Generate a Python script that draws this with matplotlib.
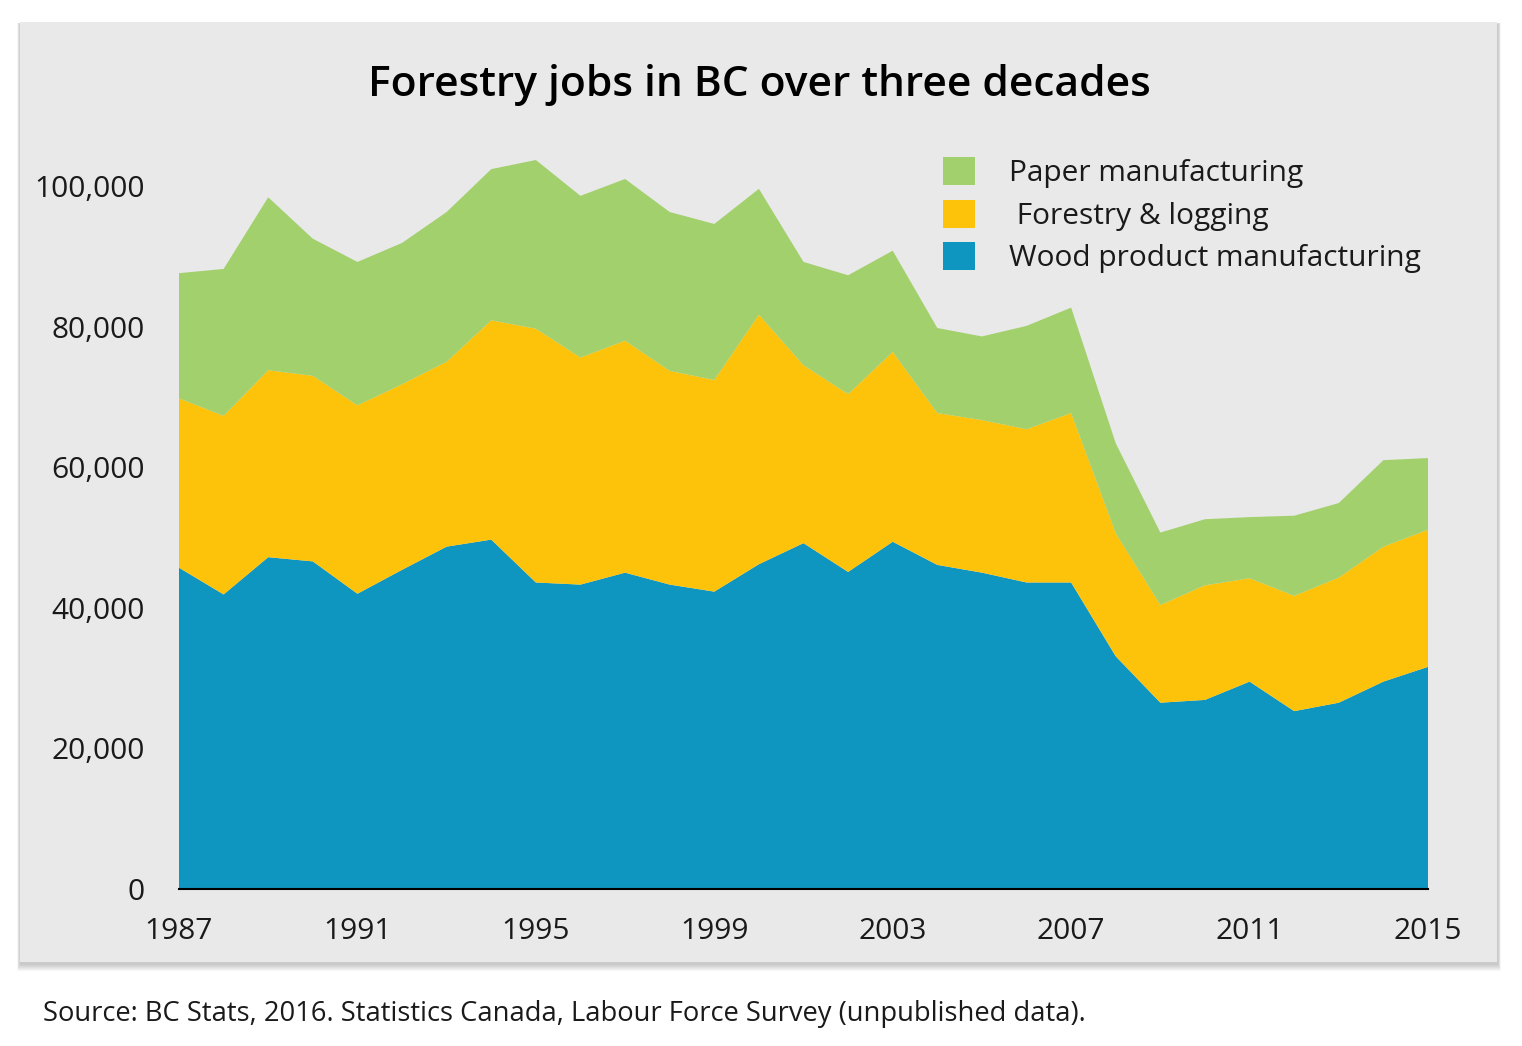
import matplotlib
matplotlib.use("Agg")
import matplotlib.pyplot as plt
from matplotlib.patches import Patch, Rectangle

plt.rcParams['font.family'] = ['Open Sans', 'DejaVu Sans']

years = list(range(1987, 2016))
wood = [45.7, 41.9, 47.2, 46.6, 42.0, 45.4, 48.7, 49.7, 43.6, 43.3, 45.0, 43.3, 42.3, 46.2,
        49.2, 45.1, 49.4, 46.1, 45.0, 43.6, 43.6, 33.1, 26.5, 26.9, 29.5, 25.3, 26.5, 29.5, 31.6]
forestry = [24.1, 25.4, 26.6, 26.4, 26.8, 26.4, 26.3, 31.2, 36.1, 32.3, 33.0, 30.4, 30.1, 35.5,
            25.3, 25.3, 27.0, 21.6, 21.7, 21.8, 24.1, 17.5, 13.9, 16.3, 14.7, 16.4, 17.8, 19.2, 19.5]
paper = [17.8, 20.9, 24.6, 19.5, 20.4, 20.1, 21.3, 21.5, 24.0, 23.0, 23.0, 22.6, 22.2, 17.9,
         14.7, 16.9, 14.4, 12.1, 11.9, 14.7, 15.0, 12.8, 10.3, 9.4, 8.7, 11.4, 10.6, 12.3, 10.2]
wood = [v * 1000 for v in wood]
forestry = [v * 1000 for v in forestry]
paper = [v * 1000 for v in paper]

series_labels = ["Wood product manufacturing", "Forestry & logging", "Paper manufacturing"]
colors = ["#0E96C0", "#FDC20A", "#A2D06C"]
xticks = [1987, 1991, 1995, 1999, 2003, 2007, 2011, 2015]
yticks = [0, 20000, 40000, 60000, 80000, 100000]

W, H = 1522, 1046
fig = plt.figure(figsize=(W / 100, H / 100), dpi=100)
fig.patch.set_facecolor("white")

# panel soft shadow and panel
px0, py0, pw, ph = 20, 22, 1477, 940
for g in range(7, 0, -1):
    fig.patches.append(Rectangle(((px0 - g * 0.4) / W, 1 - (py0 + ph + 2 + g) / H),
                                 (pw + 0.8 * g + 1) / W, (ph + g * 1.2) / H,
                                 transform=fig.transFigure, facecolor="black", alpha=0.03,
                                 edgecolor="none", zorder=-3))
fig.patches.append(Rectangle((px0 / W, 1 - (py0 + ph) / H), pw / W, ph / H, transform=fig.transFigure,
                             facecolor="#E9E9E9", edgecolor="none", zorder=-2))

left, right = 179 / W, 1428 / W
y0 = 889
ytop_val = 110000
ppk = 7.03
ytop = y0 - ytop_val / 1000 * ppk
ax = fig.add_axes([left, 1 - y0 / H, right - left, (y0 - ytop) / H])
ax.set_zorder(2)
ax.set_facecolor("none")
ax.stackplot(years, wood, forestry, paper, colors=colors, labels=series_labels, linewidth=0)
ax.set_xlim(1987, 2015)
ax.set_ylim(0, ytop_val)
ax.set_xticks(xticks)
ax.set_xticklabels([str(x) for x in xticks])
ax.set_yticks(yticks)
ax.set_yticklabels([f"{v:,}" for v in yticks])
for s in ["top", "right", "left"]:
    ax.spines[s].set_visible(False)
ax.spines["bottom"].set_color("black")
ax.spines["bottom"].set_linewidth(1.5)
ax.tick_params(axis="both", length=0, labelsize=21.5, colors="#1a1a1a")
ax.tick_params(axis="x", pad=20.5)
ax.tick_params(axis="y", pad=24.5)

handles = [Patch(facecolor=colors[2]), Patch(facecolor=colors[1]), Patch(facecolor=colors[0])]
labs = ["Paper manufacturing", " Forestry & logging", "Wood product manufacturing"]
leg = ax.legend(handles, labs, loc="upper left",
                bbox_to_anchor=((943 - 179) / (1428 - 179), (y0 - 157) / (y0 - ytop)),
                frameon=False, fontsize=21.5, handlelength=1.07, handleheight=1.07,
                handletextpad=1.14, labelspacing=0.38, borderaxespad=0, borderpad=0)
for t in leg.get_texts():
    t.set_color("#1a1a1a")

fig.text(759 / W, 1 - 85 / H, "Forestry jobs in BC over three decades", ha="center", va="center",
         fontsize=30.6, fontweight="semibold", color="black")
fig.text(43 / W, 1 - 1014 / H, "Source: BC Stats, 2016. Statistics Canada, Labour Force Survey (unpublished data).",
         ha="left", va="center", fontsize=19.7, color="#1a1a1a")

fig.savefig("out.png", dpi=100)
